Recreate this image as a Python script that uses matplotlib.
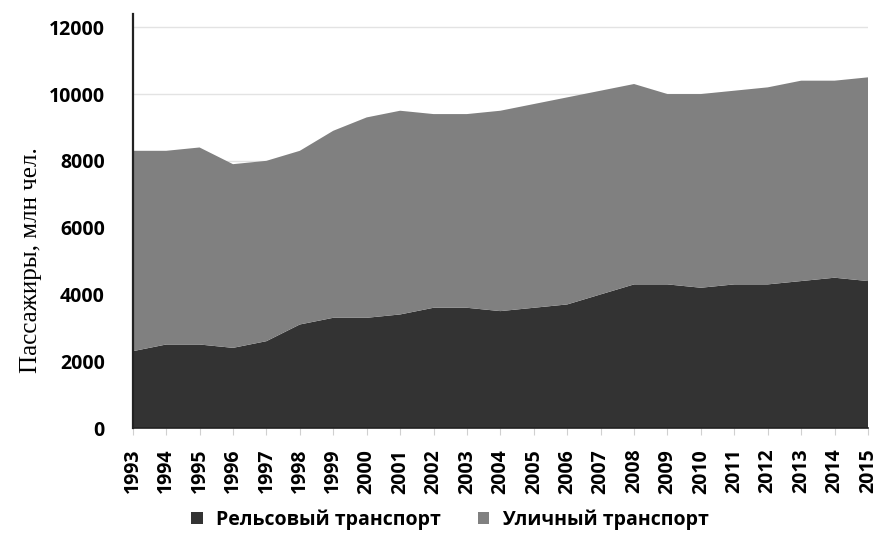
import matplotlib.pyplot as plt
from matplotlib.patches import Patch

years = list(range(1993, 2016))
# Rail transport (bottom layer), mln passengers
rail = [2300, 2500, 2500, 2400, 2600, 3100, 3300, 3300, 3400, 3600, 3600, 3500,
        3600, 3700, 4000, 4300, 4300, 4200, 4300, 4300, 4400, 4500, 4400]
# Total passengers (top of the street transport layer)
total = [8300, 8300, 8400, 7900, 8000, 8300, 8900, 9300, 9500, 9400, 9400, 9500,
         9700, 9900, 10100, 10300, 10000, 10000, 10100, 10200, 10400, 10400, 10500]
street = [t - r for t, r in zip(total, rail)]

series_names = ["Рельсовый транспорт", "Уличный транспорт"]
colors = ["#333333", "#808080"]
yticks = [0, 2000, 4000, 6000, 8000, 10000, 12000]

plt.rcParams['font.family'] = ['Open Sans', 'DejaVu Sans']

fig = plt.figure(figsize=(8.79, 5.34), dpi=100)
ax = fig.add_axes([0.151, 0.1985, 0.8365, 0.7755])

ax.stackplot(years, rail, street, colors=colors, linewidth=0, zorder=2)

ax.set_xlim(1993, 2015)
ax.set_ylim(0, 12400)
ax.set_yticks(yticks)
ax.set_xticks(years)
ax.set_yticklabels([str(v) for v in yticks], fontsize=14, fontweight='bold')
ax.set_xticklabels([str(y) for y in years], fontsize=14, fontweight='bold', rotation=90)
ax.tick_params(axis='y', length=0, pad=20)
ax.tick_params(axis='x', length=5, color='#d0d0d0', pad=10)
ax.yaxis.grid(True, color='#e3e3e3', linewidth=1, zorder=0)
ax.set_axisbelow(True)

for s in ['top', 'right']:
    ax.spines[s].set_visible(False)
ax.spines['left'].set_color('#222222')
ax.spines['left'].set_linewidth(1.6)
ax.spines['bottom'].set_color('#222222')
ax.spines['bottom'].set_linewidth(1.2)

ax.set_ylabel("Пассажиры, млн чел.", family=['Liberation Serif', 'DejaVu Serif'],
              fontsize=18)
ax.yaxis.set_label_coords(-0.124, 0.405)

handles = [Patch(facecolor=c, edgecolor='none') for c in colors]
fig.legend(handles, series_names, loc='lower center', bbox_to_anchor=(0.512, -0.025),
           ncol=2, frameon=False, handlelength=0.6, handleheight=0.6,
           handletextpad=0.65, columnspacing=1.9,
           prop={'family': ['Open Sans', 'DejaVu Sans'], 'weight': 'bold', 'size': 14})

fig.savefig("out.png", dpi=100)
